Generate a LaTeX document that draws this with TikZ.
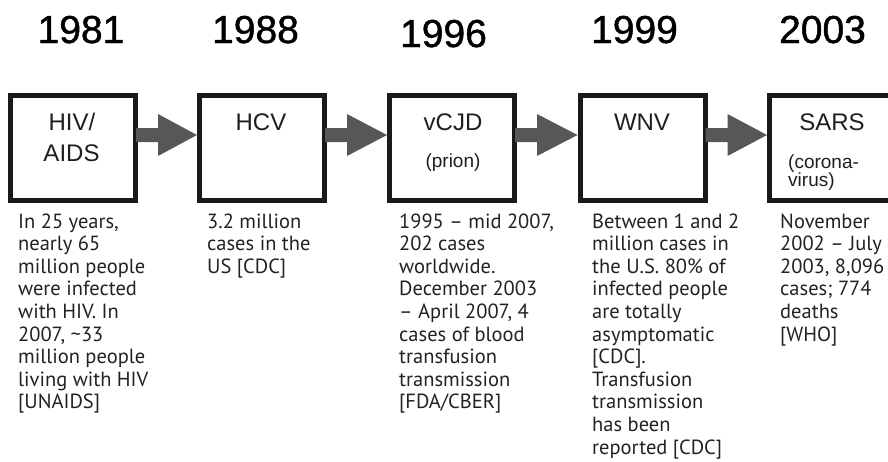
\documentclass[tikz,border=0pt]{standalone}
\usepackage{fontspec}
\setmainfont{Liberation Sans}
\newfontfamily\descfont{PT Sans}
\newfontfamily\yearfont[FakeBold=1.2]{Liberation Sans}
\usetikzlibrary{calc}
\definecolor{boxcol}{HTML}{1A1A1A}
\definecolor{arrowcol}{HTML}{575757}
\definecolor{labcol}{HTML}{1F1F1F}
\definecolor{desccol}{HTML}{222222}
\newcommand{\desctext}[1]{\parbox[t]{190pt}{\descfont\fontsize{20.5}{22.6}\selectfont #1}}
\begin{document}
\begin{tikzpicture}[x=1pt,y=-1pt,
  box/.style={draw=boxcol, line width=5pt, minimum width=125pt, minimum height=105pt, inner sep=0pt, fill=white},
  year/.style={font=\yearfont\fontsize{39}{44}\selectfont, anchor=base, text=black, inner sep=0pt},
  boxlabel/.style={font=\fontsize{24}{28}\selectfont, anchor=base, inner sep=0pt, text=labcol},
  sublabel/.style={font=\fontsize{19}{16}\selectfont, anchor=base, inner sep=0pt, text=labcol},
  desc/.style={anchor=base west, inner sep=0pt, text=desccol},
  arrowfill/.style={fill=arrowcol}]
\useasboundingbox (0,0) rectangle (888,461);

% years
\node[year] (y1) at (81,43) {1981};
\node[year] (y2) at (255.5,43) {1988};
\node[year] (y3) at (443.5,47) {1996};
\node[year] (y4) at (634.5,43) {1999};
\node[year] (y5) at (822.5,43) {2003};

% boxes
\node[box] (b1) at (73,148) {};
\node[box] (b2) at (262,148) {};
\node[box] (b3) at (452,148) {};
\node[box] (b4) at (642.5,148) {};
\node[box] (b5) at (832,148) {};

% block arrows
\foreach \a/\b in {b1/b2,b2/b3,b3/b4,b4/b5}{
  \fill[arrowfill] ($(\a.east)+(-2,-20)$) -- ($(\a.east)+(20,-20)$) -- ($(\a.east)+(20,-34)$)
    -- ($(\b.west)+(0,-13)$) -- ($(\a.east)+(20,8)$) -- ($(\a.east)+(20,-6)$)
    -- ($(\a.east)+(-2,-6)$) -- cycle;
}

% box labels
\node[boxlabel] (l1a) at (72,130) {HIV/};
\node[boxlabel] (l1b) at (71.5,161) {AIDS};
\node[boxlabel] (l2) at (261,130) {HCV};
\node[boxlabel] (l3) at (453,130) {vCJD};
\node[sublabel] (l3b) at (453,167) {(prion)};
\node[boxlabel] (l4) at (642,130) {WNV};
\node[boxlabel] (l5) at (832,130) {SARS};
\node[anchor=base west, inner sep=0pt, text=labcol] (l5b) at (788,168)
  {\parbox[t]{100pt}{\fontsize{19}{16}\selectfont (corona-\\virus)}};

% descriptions
\node[desc] (d1) at (18,228) {\desctext{In 25 years,\\nearly 65\\million people\\were infected\\with HIV. In\\2007, \textasciitilde 33\\million people\\living with HIV\\{[UNAIDS]}}};
\node[desc] (d2) at (207,228) {\desctext{3.2 million\\cases in the\\US [CDC]}};
\node[desc] (d3) at (399,228) {\desctext{1995 – mid 2007,\\202 cases\\worldwide.\\December 2003\\– April 2007, 4\\cases of blood\\transfusion\\transmission\\{[FDA/CBER]}}};
\node[desc] (d4) at (592,228) {\desctext{Between 1 and 2\\million cases in\\the U.S. 80\% of\\infected people\\are totally\\asymptomatic\\{[CDC].}\\Transfusion\\transmission\\has been\\reported [CDC]}};
\node[desc] (d5) at (780,228) {\desctext{November\\2002 – July\\2003, 8,096\\cases; 774\\deaths\\{[WHO]}}};
\end{tikzpicture}
\end{document}
